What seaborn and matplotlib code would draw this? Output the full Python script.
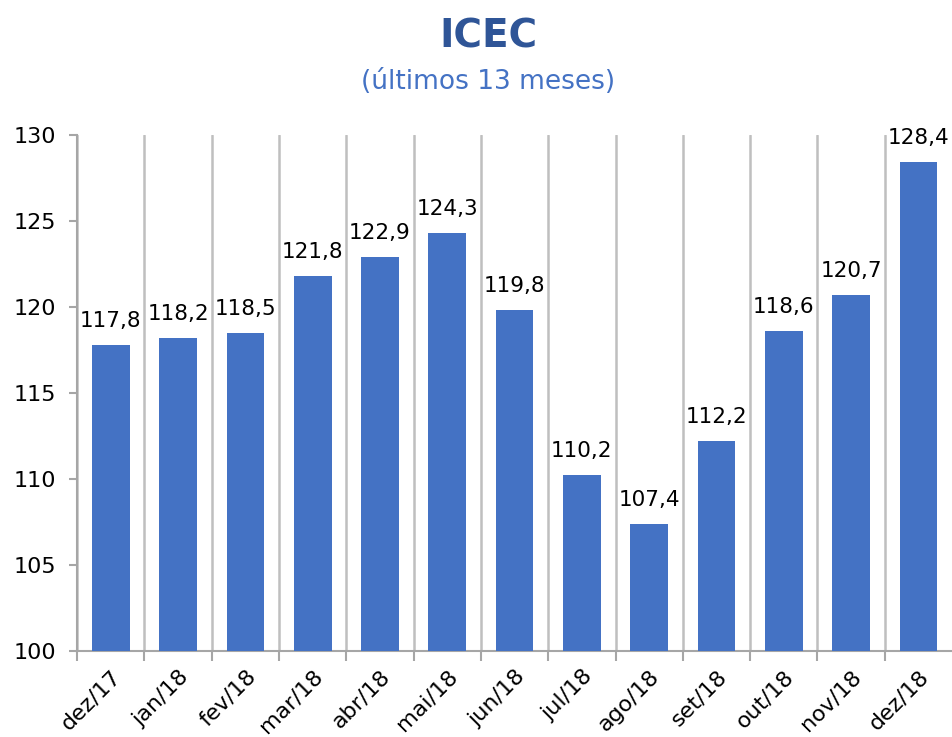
import matplotlib.pyplot as plt
import seaborn as sns
import pandas as pd
import numpy as np

# ICEC - últimos 13 meses
months = ['dez/17', 'jan/18', 'fev/18', 'mar/18', 'abr/18', 'mai/18', 'jun/18',
          'jul/18', 'ago/18', 'set/18', 'out/18', 'nov/18', 'dez/18']
icec = [117.8, 118.2, 118.5, 121.8, 122.9, 124.3, 119.8,
        110.2, 107.4, 112.2, 118.6, 120.7, 128.4]
y_ticks = [100, 105, 110, 115, 120, 125, 130]


def make_chart():
    sns.set_theme(style='white')
    plt.rcParams['font.family'] = ['DejaVu Sans']

    df = pd.DataFrame({'mes': months, 'icec': icec})

    fig = plt.figure(figsize=(9.53, 7.37), dpi=100)
    ax = fig.add_axes([0.081, 0.117, 0.918, 0.700])

    sns.barplot(data=df, x='mes', y='icec', order=months, color='#4472C4',
                saturation=1, width=0.56, linewidth=0, ax=ax, zorder=3)

    ax.set_ylim(100, 130)
    ax.set_xlim(-0.5, len(months) - 0.5)
    ax.set_yticks(y_ticks)
    ax.set_yticklabels([str(t) for t in y_ticks], fontsize=16, color='#000000')

    # category separators as vertical grid lines
    ax.set_xticks(np.arange(len(months)))
    ax.set_xticks(np.arange(len(months)) - 0.5, minor=True)
    ax.set_xticklabels(months, rotation=45, ha='right', rotation_mode='anchor',
                       fontsize=16, color='#000000')
    ax.tick_params(axis='x', which='major', length=0, pad=11)
    ax.tick_params(axis='x', which='minor', length=7, width=1.5,
                   color='#a6a6a6', direction='out', bottom=True)
    ax.tick_params(axis='y', length=6, width=1.5, color='#a6a6a6',
                   direction='out', left=True, pad=9)
    ax.grid(axis='x', which='minor', color='#bfbfbf', linewidth=1.8, zorder=0)
    ax.grid(axis='y', visible=False)

    for side in ['top', 'right']:
        ax.spines[side].set_visible(False)
    for side in ['left', 'bottom']:
        ax.spines[side].set_color('#a6a6a6')
        ax.spines[side].set_linewidth(1.5)

    ax.set_xlabel('')
    ax.set_ylabel('')

    labels = [f'{v:.1f}'.replace('.', ',') for v in icec]
    ax.bar_label(ax.containers[0], labels=labels, padding=10, fontsize=15.5,
                 color='#000000')

    fig.text(0.513, 0.950, 'ICEC', ha='center', va='center', fontsize=28,
             fontweight='bold', color='#2F5597')
    fig.text(0.512, 0.889, '(últimos 13 meses)', ha='center', va='center',
             fontsize=19, color='#4472C4')

    fig.savefig('out.png', dpi=100)


if __name__ == '__main__':
    make_chart()
